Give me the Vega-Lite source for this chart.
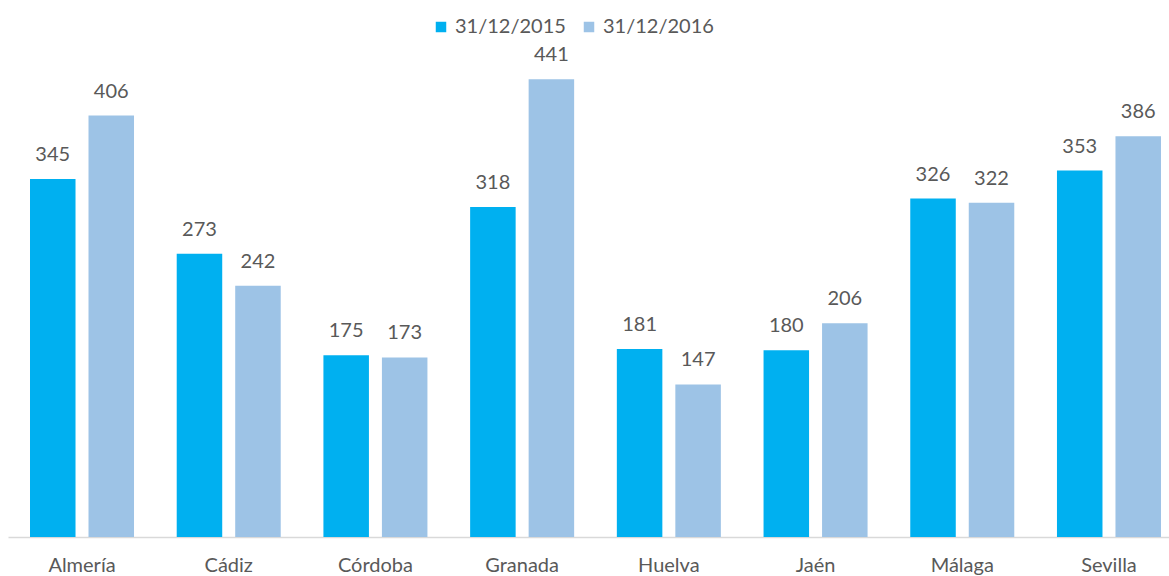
{
  "$schema": "https://vega.github.io/schema/vega-lite/v6.json",
  "autosize": {"type": "none"},
  "width": 1161,
  "height": 519,
  "padding": {"left": 8, "top": 18, "right": 0, "bottom": 39},
  "background": "white",
  "data": {
    "values": [
      {"provincia": "Almería", "fecha": "31/12/2015", "valor": 345},
      {"provincia": "Almería", "fecha": "31/12/2016", "valor": 406},
      {"provincia": "Cádiz", "fecha": "31/12/2015", "valor": 273},
      {"provincia": "Cádiz", "fecha": "31/12/2016", "valor": 242},
      {"provincia": "Córdoba", "fecha": "31/12/2015", "valor": 175},
      {"provincia": "Córdoba", "fecha": "31/12/2016", "valor": 173},
      {"provincia": "Granada", "fecha": "31/12/2015", "valor": 318},
      {"provincia": "Granada", "fecha": "31/12/2016", "valor": 441},
      {"provincia": "Huelva", "fecha": "31/12/2015", "valor": 181},
      {"provincia": "Huelva", "fecha": "31/12/2016", "valor": 147},
      {"provincia": "Jaén", "fecha": "31/12/2015", "valor": 180},
      {"provincia": "Jaén", "fecha": "31/12/2016", "valor": 206},
      {"provincia": "Málaga", "fecha": "31/12/2015", "valor": 326},
      {"provincia": "Málaga", "fecha": "31/12/2016", "valor": 322},
      {"provincia": "Sevilla", "fecha": "31/12/2015", "valor": 353},
      {"provincia": "Sevilla", "fecha": "31/12/2016", "valor": 386}
    ]
  },
  "config": {
    "view": {"stroke": null},
    "font": "Lato"
  },
  "encoding": {
    "x": {
      "field": "provincia",
      "type": "nominal",
      "sort": null,
      "title": null,
      "scale": {"paddingInner": 0.291, "paddingOuter": 0.1023, "align": 0.733},
      "axis": {
        "labelAngle": 0,
        "labelFont": "Lato",
        "labelFontSize": 20,
        "labelColor": "#595959",
        "labelPadding": 18,
        "ticks": false,
        "domainColor": "#d9d9d9",
        "domainWidth": 1.5
      }
    },
    "xOffset": {
      "field": "fecha",
      "type": "nominal",
      "scale": {"paddingInner": 0.222, "paddingOuter": 0}
    },
    "y": {
      "field": "valor",
      "type": "quantitative",
      "scale": {"domain": [0, 500]},
      "axis": null
    }
  },
  "layer": [
    {
      "mark": {"type": "bar"},
      "encoding": {
        "color": {
          "field": "fecha",
          "type": "nominal",
          "scale": {"domain": ["31/12/2015", "31/12/2016"], "range": ["#00B0F0", "#9DC3E6"]},
          "legend": {
            "title": null,
            "orient": "none",
            "direction": "horizontal",
            "legendX": 423,
            "legendY": -1,
            "symbolType": "square",
            "symbolSize": 110,
            "symbolStrokeWidth": 0,
            "labelFont": "Lato",
            "labelFontSize": 20,
            "labelColor": "#595959",
            "labelOffset": 4,
            "columnPadding": 13,
            "padding": 0
          }
        }
      }
    },
    {
      "mark": {"type": "text", "baseline": "alphabetic", "dy": -18, "fontSize": 20, "color": "#595959", "font": "Lato"},
      "encoding": {
        "text": {"field": "valor", "type": "quantitative"}
      }
    }
  ]
}
